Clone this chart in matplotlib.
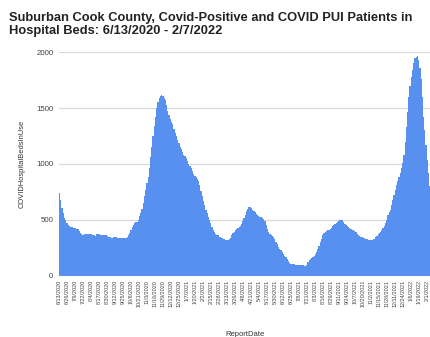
import matplotlib

matplotlib.use("Agg")
import matplotlib.pyplot as plt  # noqa: E402
import numpy as np  # noqa: E402

plt.rcParams["font.family"] = ["Liberation Sans", "DejaVu Sans"]

TITLE = ("Suburban Cook County, Covid-Positive and COVID PUI Patients in\n"
         "Hospital Beds: 6/13/2020 - 2/7/2022")

# beds in use, one reading every 2 days starting 6/13/2020
STEP_DAYS = 2
BEDS = [
    740, 680, 610, 560, 520, 495, 470, 458, 448, 440,
    432, 428, 425, 423, 420, 415, 400, 385, 372, 368,
    372, 374, 375, 374, 372, 370, 370, 368, 362, 358,
    370, 372, 370, 368, 367, 365, 366, 363, 360, 356,
    348, 342, 340, 341, 343, 344, 342, 340, 338, 337,
    338, 336, 335, 336, 340, 350, 365, 385, 410, 436,
    455, 468, 478, 485, 498, 530, 565, 600, 650, 710,
    770, 830, 880, 960, 1060, 1156, 1250, 1340, 1425, 1500,
    1555, 1590, 1612, 1618, 1605, 1595, 1575, 1530, 1475, 1440,
    1400, 1375, 1355, 1310, 1280, 1250, 1215, 1185, 1156, 1130,
    1105, 1085, 1070, 1055, 1030, 1000, 980, 960, 935, 910,
    893, 880, 865, 845, 815, 760, 710, 670, 630, 590,
    560, 529, 500, 470, 440, 409, 390, 375, 365, 360,
    350, 345, 338, 332, 328, 322, 318, 317, 325, 340,
    362, 380, 395, 410, 421, 430, 438, 445, 460, 490,
    520, 545, 575, 600, 612, 614, 605, 590, 578, 570,
    555, 540, 530, 525, 522, 518, 510, 490, 455, 420,
    392, 375, 365, 355, 347, 330, 305, 280, 255, 243,
    230, 210, 192, 175, 165, 150, 130, 115, 108, 105,
    104, 102, 100, 98, 97, 96, 95, 93, 92, 90,
    89, 100, 125, 140, 150, 158, 165, 175, 195, 214,
    240, 270, 300, 330, 360, 380, 392, 398, 405, 412,
    421, 430, 442, 455, 466, 475, 482, 490, 500, 503,
    495, 478, 462, 455, 445, 435, 428, 420, 412, 405,
    400, 390, 375, 365, 358, 350, 345, 340, 337, 333,
    328, 322, 318, 316, 318, 325, 332, 345, 358, 370,
    378, 390, 410, 425, 445, 470, 500, 540, 570, 590,
    630, 680, 720, 768, 810, 850, 880, 917, 960, 1010,
    1080, 1200, 1330, 1470, 1604, 1700, 1780, 1843, 1900, 1945,
    1962, 1965, 1930, 1860, 1760, 1600, 1425, 1300, 1170, 1037,
    920, 800, 700,
]

# axis labels, one every 13 days
TICK_EVERY = 13
TICK_LABELS = [
    "6/13/2020", "6/26/2020", "7/9/2020", "7/22/2020", "8/4/2020",
    "8/17/2020", "8/30/2020", "9/12/2020", "9/25/2020", "10/8/2020",
    "10/21/2020", "11/3/2020", "11/16/2020", "11/29/2020", "12/12/2020",
    "12/25/2020", "1/7/2021", "1/20/2021", "2/2/2021", "2/15/2021",
    "2/28/2021", "3/13/2021", "3/26/2021", "4/8/2021", "4/21/2021",
    "5/4/2021", "5/17/2021", "5/30/2021", "6/12/2021", "6/25/2021",
    "7/8/2021", "7/21/2021", "8/3/2021", "8/16/2021", "8/29/2021",
    "9/11/2021", "9/24/2021", "10/7/2021", "10/20/2021", "11/2/2021",
    "11/15/2021", "11/28/2021", "12/11/2021", "12/24/2021", "1/6/2022",
    "1/19/2022", "2/1/2022",
]
LAST_DAY = 604

fig = plt.figure(figsize=(4.31, 3.37), dpi=100)
ax = fig.add_axes([59.0 / 431, 61.3 / 337, 1 - 59.0 / 431, 223.4 / 337])

days = np.arange(len(BEDS)) * STEP_DAYS
ax.bar(days - 0.5, BEDS, width=STEP_DAYS, align="edge", color="#5890ef",
       linewidth=0, zorder=2)

ax.set_xlim(-0.5, LAST_DAY + 0.5)
ax.set_ylim(0, 2000)
ax.set_yticks([0, 500, 1000, 1500, 2000])
ax.yaxis.grid(True, color="#d9d9d9", lw=0.9, zorder=0)
ax.set_axisbelow(True)
for s in ax.spines.values():
    s.set_visible(False)

ax.set_xticks(np.arange(len(TICK_LABELS)) * TICK_EVERY)
ax.set_xticklabels(TICK_LABELS, rotation=90, fontsize=3.9, color="#444444")
ax.tick_params(axis="x", length=0, pad=3)
ax.tick_params(axis="y", length=0, pad=4, labelsize=5.7, labelcolor="#444444")

ax.set_ylabel("COVIDHospitalBedsInUse", fontsize=5.4, color="#333333",
              labelpad=7.5)
ax.set_xlabel("ReportDate", fontsize=5.5, color="#333333", labelpad=17)

fig.text(9.5 / 431, 1 - 12.5 / 337, TITLE, fontsize=9.25, fontweight="bold",
         va="top", ha="left", linespacing=1.05, color="#222222")

fig.savefig("out.png", dpi=100)
